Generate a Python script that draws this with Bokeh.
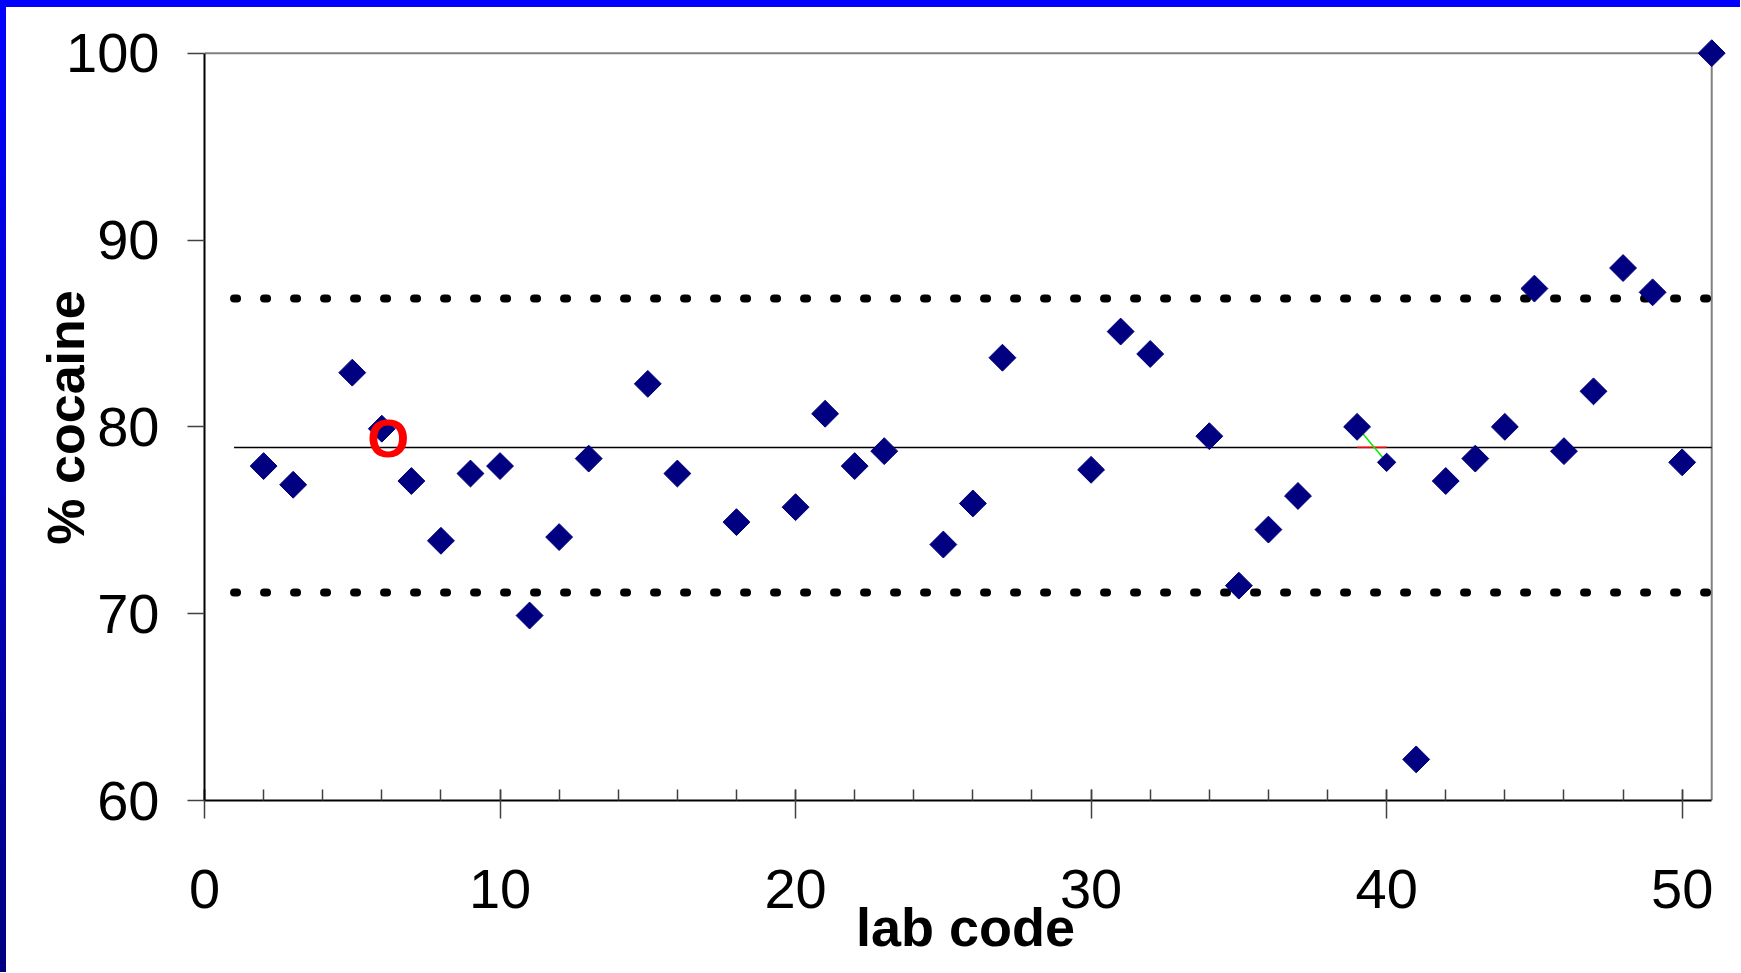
import math
from bokeh.plotting import figure
from bokeh.models import Range1d, SingleIntervalTicker, Div, ColumnDataSource
from bokeh.layouts import column, row
from bokeh.embed import file_html
from bokeh.resources import INLINE
from bokeh.core.properties import value

# ---- data ----
lab_code = [2, 3, 5, 6, 7, 8, 9, 10, 11, 12, 13, 15, 16, 18, 20, 21, 22, 23,
            25, 26, 27, 30, 31, 32, 34, 35, 36, 37, 39, 41, 42, 43, 44, 45,
            46, 47, 48, 49, 50, 51]
cocaine_pct = [77.9, 76.9, 82.9, 79.9, 77.1, 73.9, 77.5, 77.9, 69.9, 74.1, 78.3,
               82.3, 77.5, 74.9, 75.7, 80.7, 77.9, 78.7, 73.7, 75.9, 83.7, 77.7,
               85.1, 83.9, 79.5, 71.5, 74.5, 76.3, 80.0, 62.2, 77.1, 78.3, 80.0,
               87.4, 78.7, 81.9, 88.5, 87.2, 78.1, 100.0]
small_code = [40]
small_pct = [78.1]
link_code = [39, 40]
link_pct = [80.0, 78.1]

mean_pct = 78.9
upper_pct = 86.87
lower_pct = 71.13
line_from = 1
line_to = 51

x_axis_title = "lab code"
y_axis_title = "% cocaine"
flag_text = "O"
flag_code = 6.22
flag_pct = 79.4

FONT = "Liberation Sans"

p = figure(width=1734, height=965,
           x_range=Range1d(0, 51.5), y_range=Range1d(60, 101),
           output_backend="svg", toolbar_location=None,
           min_border_left=198, min_border_right=14,
           min_border_top=27, min_border_bottom=172,
           background_fill_color="white", border_fill_color="white")
p.outline_line_color = None
p.xgrid.grid_line_color = None
p.ygrid.grid_line_color = None

# axes
xa = p.xaxis[0]
xa.ticker = SingleIntervalTicker(interval=10, num_minor_ticks=5)
xa.bounds = (0, 51)
xa.axis_line_color = "black"
xa.axis_line_width = 2
xa.major_tick_out = 18
xa.major_tick_in = 11
xa.minor_tick_in = 11
xa.minor_tick_out = 0
xa.major_tick_line_color = "#404040"
xa.major_tick_line_width = 1.5
xa.minor_tick_line_color = "#404040"
xa.minor_tick_line_width = 1.5
xa.major_label_text_font = FONT
xa.major_label_text_font_size = "56px"
xa.major_label_text_color = "black"
xa.major_label_standoff = 51
xa.axis_label = x_axis_title
xa.axis_label_text_font = FONT
xa.axis_label_text_font_style = "bold"
xa.axis_label_text_font_size = "54px"
xa.axis_label_text_color = "black"
xa.axis_label_standoff = -14

ya = p.yaxis[0]
ya.ticker = SingleIntervalTicker(interval=10, num_minor_ticks=0)
ya.bounds = (60, 100)
ya.axis_line_color = "black"
ya.axis_line_width = 2
ya.major_tick_out = 17
ya.major_tick_in = 0
ya.minor_tick_line_color = None
ya.major_tick_line_color = "#404040"
ya.major_tick_line_width = 1.5
ya.major_label_text_font = FONT
ya.major_label_text_font_size = "56px"
ya.major_label_text_color = "black"
ya.major_label_standoff = 28
ya.axis_label = y_axis_title
ya.axis_label_text_font = FONT
ya.axis_label_text_font_style = "bold"
ya.axis_label_text_font_size = "52px"
ya.axis_label_text_color = "black"
ya.axis_label_standoff = -32

# frame borders (top and right, gray)
p.line(x=[0, line_to], y=[100, 100], line_color="#808080", line_width=2)
p.line(x=[line_to, line_to], y=[60, 100], line_color="#808080", line_width=2)

# limits and mean
for lim in (upper_pct, lower_pct):
    p.line(x=[line_from, line_to], y=[lim, lim], line_color="black",
           line_width=8, line_dash="3 27", line_cap="round")
p.line(x=[line_from, line_to], y=[mean_pct, mean_pct], line_color="black",
       line_width=1.5)
p.line(x=link_code, y=[mean_pct, mean_pct], line_color="#ff0000", line_width=1.5)
p.line(x=link_code, y=link_pct, line_color="#00ee00", line_width=1.5)

src = ColumnDataSource(dict(x=lab_code, y=cocaine_pct))
p.scatter(x="x", y="y", source=src, marker="square", size=19,
          angle=math.pi / 4, fill_color="#000080", line_color="#000080")
p.scatter(x=small_code, y=small_pct, marker="square", size=13,
          angle=math.pi / 4, fill_color="#000080", line_color="#000080")

p.text(x=[flag_code], y=[flag_pct], text=[flag_text], text_color="#ff0000",
       text_font=value(FONT), text_font_style="bold", text_font_size="54px",
       text_align="center", text_baseline="middle")

top_bar = Div(text="", width=1740, height=7, margin=0,
              styles={"background-color": "#0000ff"})
left_bar = Div(text="", width=6, height=965, margin=0,
               styles={"background": "linear-gradient(#0000ff, #000080)"})
layout = column(top_bar, row(left_bar, p, spacing=0), spacing=0)

open("out.html", "w").write(file_html(layout, INLINE))
